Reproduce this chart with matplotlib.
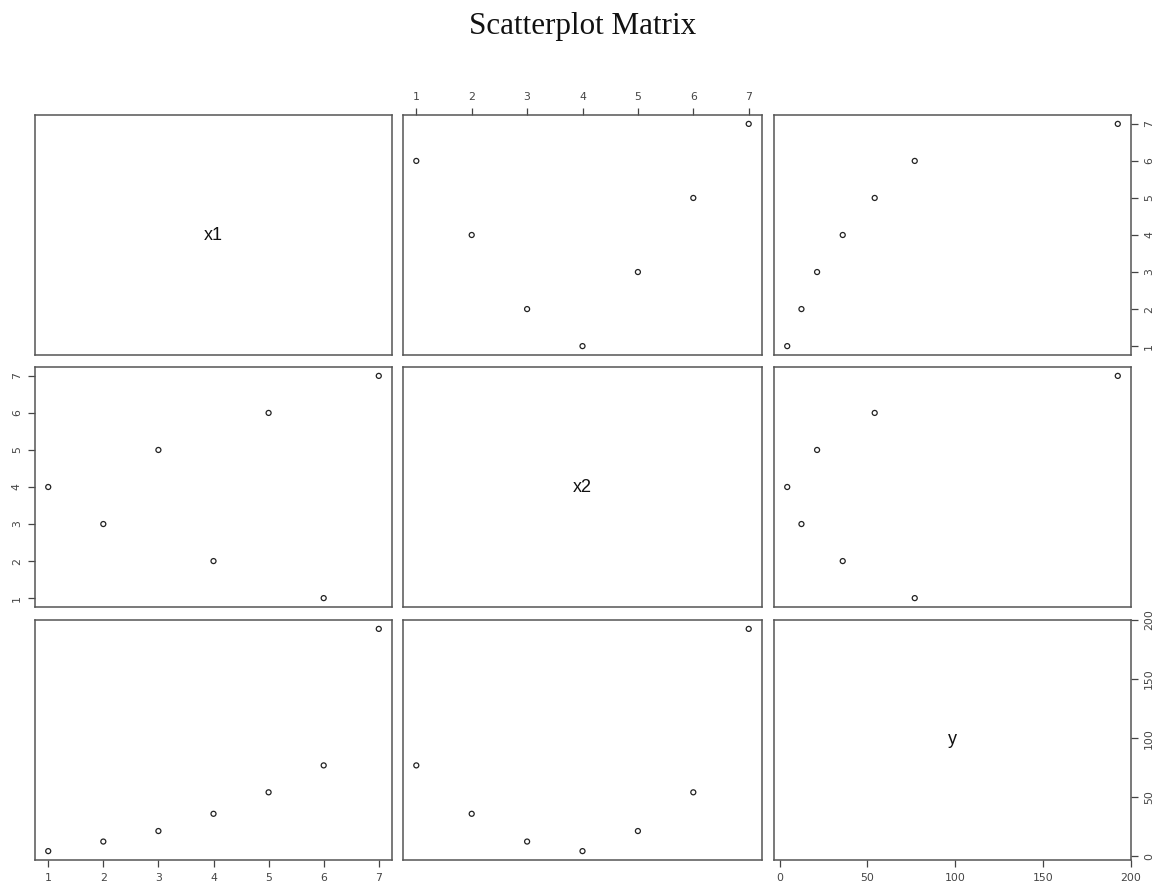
import matplotlib
matplotlib.use("Agg")
import matplotlib.pyplot as plt
import numpy as np

# Data
var_names = ["x1", "x2", "y"]
x1 = [1, 2, 3, 4, 5, 6, 7]
x2 = [4, 3, 5, 2, 6, 1, 7]
y = [4.3, 12.4, 21.3, 35.9, 54.1, 76.9, 192.5]
ticks_x12 = [1, 2, 3, 4, 5, 6, 7]
ticks_y = [0, 50, 100, 150, 200]

data = [x1, x2, y]
tick_sets = [ticks_x12, ticks_x12, ticks_y]

W, H = 1158, 885
fig = plt.figure(figsize=(W / 100, H / 100), dpi=100)
fig.patch.set_facecolor("white")

fig.text(583 / W, 1 - 34 / H, "Scatterplot Matrix", ha="center", va="baseline",
         fontsize=22.4, family=["Liberation Serif", "DejaVu Serif"], color="#111111")

col_lr = [(35, 392), (403, 762), (774, 1131)]
row_tb = [(115, 355), (367, 607), (620, 860)]

def lims(v):
    lo, hi = min(v), max(v)
    r = hi - lo
    return lo - 0.04 * r, hi + 0.04 * r

frame_col = "#555555"
tick_col = "#444444"
fs_tick = 7.8
tick_kw = dict(length=5, width=0.9, color=tick_col, labelcolor=tick_col,
               labelsize=fs_tick, pad=4.5)

for i in range(3):          # row
    for j in range(3):      # col
        l, r = col_lr[j]
        t, b = row_tb[i]
        ax = fig.add_axes([l / W, 1 - b / H, (r - l) / W, (b - t) / H])
        for s in ax.spines.values():
            s.set_color(frame_col)
            s.set_linewidth(1.1)
        ax.set_xticks([])
        ax.set_yticks([])
        ax.tick_params(which="both", length=0, labelbottom=False, labelleft=False,
                       bottom=False, left=False, top=False, right=False)
        if i == j:
            ax.text(0.5, 0.5, var_names[i], transform=ax.transAxes, ha="center",
                    va="center", fontsize=13, family=["Liberation Sans", "DejaVu Sans"],
                    color="#111111")
        else:
            ax.scatter(data[j], data[i], s=13, facecolors="none", edgecolors="#222222",
                       linewidths=0.9)
        if i == 0 and j % 2 == 1:
            ax.set_xticks(tick_sets[j])
            ax.tick_params(axis="x", top=True, labeltop=True, **tick_kw)
        if i == 2 and j % 2 == 0:
            ax.set_xticks(tick_sets[j])
            ax.tick_params(axis="x", bottom=True, labelbottom=True, **tick_kw)
        if j == 0 and i % 2 == 1:
            ax.set_yticks(tick_sets[i])
            ax.tick_params(axis="y", left=True, labelleft=True, labelrotation=90, **tick_kw)
            for lab in ax.get_yticklabels():
                lab.set_va("center")
        if j == 2 and i % 2 == 0:
            ax.set_yticks(tick_sets[i])
            ax.tick_params(axis="y", right=True, labelright=True, labelrotation=90, **tick_kw)
            for lab in ax.get_yticklabels():
                lab.set_va("center")
        ax.set_xlim(*lims(data[j]))
        ax.set_ylim(*lims(data[i]))

fig.savefig("out.png", dpi=100, facecolor="white")
